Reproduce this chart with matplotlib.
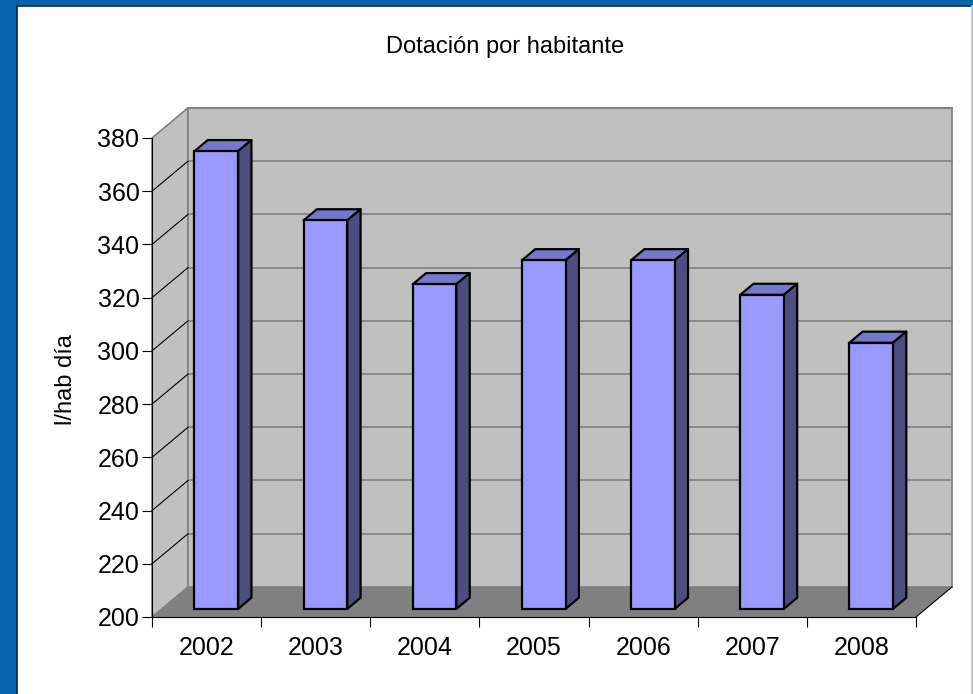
import matplotlib.pyplot as plt
from matplotlib.patches import Polygon, Rectangle
from matplotlib.lines import Line2D

plt.rcParams['font.family'] = ['Liberation Sans', 'DejaVu Sans']

years = ['2002', '2003', '2004', '2005', '2006', '2007', '2008']
dotacion = [372, 346, 322, 331, 331, 318, 300]   # l/hab dia
yticks = list(range(200, 381, 20))

ymin, ymax = 200, 380
dx, dy = 0.33, 11.3          # depth offset of back wall (data units)
f0, fd = 0.27, 0.37          # bar front depth / bar depth (fraction)
bw = 0.40                    # bar width

fig = plt.figure(figsize=(9.73, 6.94), dpi=100)
fig.patch.set_facecolor('#0465ad')
# white panel with dark border
fig.add_artist(Rectangle((17/973, 0), 955/973, 688/694, transform=fig.transFigure,
                         facecolor='white', edgecolor='none', zorder=0))
fig.add_artist(Line2D([16.5/973, 16.5/973], [0, 688.5/694], transform=fig.transFigure,
                      color='#0a2540', lw=1.2))
fig.add_artist(Line2D([16.5/973, 972/973], [688.5/694, 688.5/694], transform=fig.transFigure,
                      color='#0a2540', lw=1.2))
fig.add_artist(Line2D([972/973, 972/973], [0, 688/694], transform=fig.transFigure,
                      color='#d0d0d0', lw=1.2))

ax = fig.add_axes([152/973, 77/694, 764/973, 479/694])
ax.set_facecolor('none')
ax.set_xlim(0, len(years))
ax.set_ylim(ymin, ymax)
n = len(years)

# walls and floor
ax.add_patch(Polygon([(0, ymin), (dx, ymin + dy), (dx, ymax + dy), (0, ymax)],
                     facecolor='#c0c0c0', edgecolor='#808080', lw=1.2, clip_on=False, zorder=1))
ax.add_patch(Polygon([(dx, ymin + dy), (n + dx, ymin + dy), (n + dx, ymax + dy), (dx, ymax + dy)],
                     facecolor='#c0c0c0', edgecolor='#808080', lw=1.2, clip_on=False, zorder=1))
ax.add_patch(Polygon([(0, ymin), (n, ymin), (n + dx, ymin + dy), (dx, ymin + dy)],
                     facecolor='#808080', edgecolor='none', clip_on=False, zorder=2))
ax.plot([n, n + dx], [ymin, ymin + dy], color='black', lw=0.8, clip_on=False, zorder=3)

for v in yticks[1:]:
    ax.plot([dx, n + dx], [v + dy, v + dy], color='#808080', lw=1.2, clip_on=False, zorder=2)
    if v < ymax:
        ax.plot([0, dx], [v, v + dy], color='black', lw=0.8, clip_on=False, zorder=2)

# bars
ox, oy = f0 * dx, f0 * dy
bx, by = fd * dx, fd * dy
xs = [i + 0.5 + ox for i in range(n)]
heights = [v - ymin for v in dotacion]
ax.bar(xs, heights, width=bw, bottom=ymin + oy, color='#9999ff', edgecolor='black',
       lw=1.6, zorder=5, clip_on=False)
for x, v in zip(xs, dotacion):
    x0, x1 = x - bw / 2, x + bw / 2
    top = v + oy
    ax.add_patch(Polygon([(x0, top), (x1, top), (x1 + bx, top + by), (x0 + bx, top + by)],
                         facecolor='#7777cc', edgecolor='black', lw=1.6, joinstyle='round',
                         clip_on=False, zorder=4))
    ax.add_patch(Polygon([(x1, ymin + oy), (x1 + bx, ymin + oy + by), (x1 + bx, top + by), (x1, top)],
                         facecolor='#4d4d80', edgecolor='black', lw=1.6, joinstyle='round',
                         clip_on=False, zorder=4))

# axes
for s in ['top', 'right']:
    ax.spines[s].set_visible(False)
ax.spines['left'].set_color('black')
ax.spines['bottom'].set_color('black')
ax.spines['left'].set_zorder(6)
ax.spines['bottom'].set_zorder(6)
ax.set_yticks(yticks)
ax.tick_params(axis='y', length=7, width=0.8, labelsize=18, pad=2)
ax.set_xticks(range(n + 1))
ax.set_xticklabels([])
ax.tick_params(axis='x', which='major', length=7, width=0.8)
ax.set_xticks([i + 0.5 for i in range(n)], minor=True)
ax.set_xticklabels(years, minor=True)
ax.tick_params(axis='x', which='minor', length=0, labelsize=18, pad=14)

fig.text(505/973, 1 - 47/694, 'Dotación por habitante', ha='center', va='center', fontsize=17)
fig.text(66/973, 1 - 380/694, 'l/hab día', ha='center', va='center', rotation=90, fontsize=17)

fig.savefig('out.png', dpi=100, facecolor=fig.get_facecolor())
